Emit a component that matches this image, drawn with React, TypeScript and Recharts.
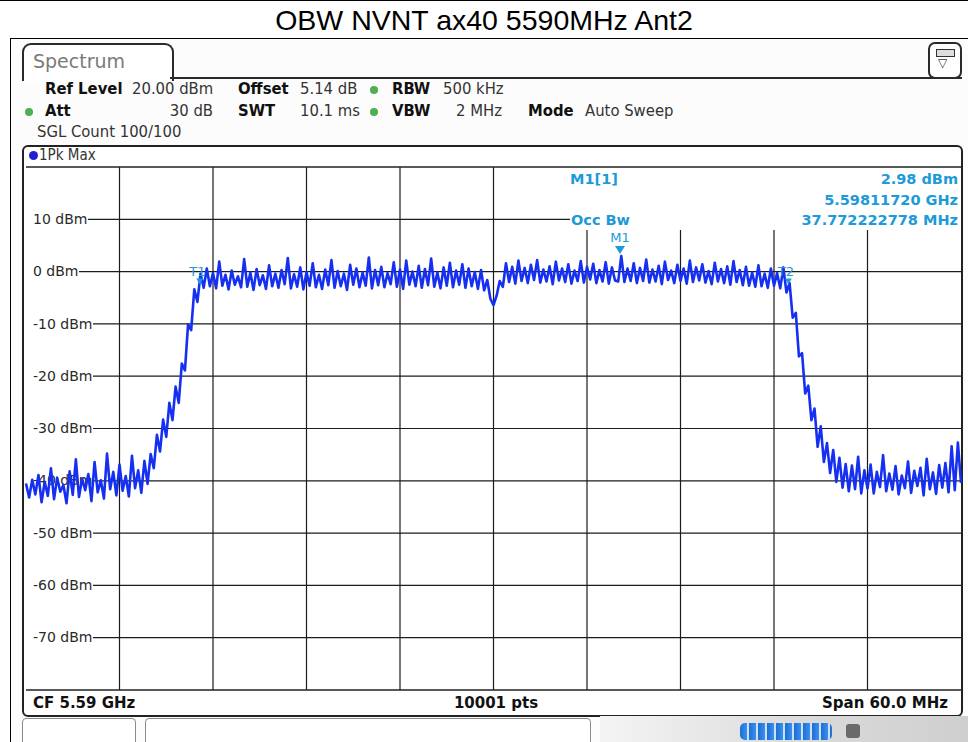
import { ComposedChart, Line, XAxis, YAxis, ReferenceLine, ReferenceDot } from 'recharts';

const freqStartMHz = 5560;
const freqStopMHz = 5620;
const freqStepMHz = 0.2;

// 1Pk Max trace, one value per 0.2 MHz (dBm)
const levelDbm = [
  -40.5, -43.2, -39.8, -42.6, -38.9, -44.1, -40.2, -42.9, -37.6, -43.5,
  -39.4, -42.1, -40.8, -44.3, -38.2, -42.7, -35.9, -43.1, -39.6, -41.8,
  -38.7, -43.9, -36.4, -42.2, -39.9, -43.4, -34.8, -41.6, -38.3, -42.8,
  -36.9, -41.9, -39.1, -43.0, -35.2, -41.4, -38.0, -42.3, -36.2, -40.6,
  -34.9, -37.6, -31.2, -34.4, -28.3, -31.6, -25.1, -28.4, -22.0, -25.1,
  -17.6, -18.9, -10.1, -11.2, -3.4, -5.8, -0.4, -3.1, 0.6, -2.8,
  -0.3, -3.2, 1.9, -2.7, -0.6, -3.4, 0.2, -2.5, -0.9, -3.0,
  2.4, -2.9, -0.2, -3.5, 0.5, -2.6, -0.7, -3.3, 1.2, -2.8,
  -0.4, -3.1, 0.3, -2.4, 2.6, -3.2, -0.5, -2.9, 0.8, -3.4,
  -0.1, -2.7, 1.6, -3.0, -0.6, -3.3, 0.4, -2.6, 2.2, -3.1,
  0.1, -2.8, -0.4, -3.5, 1.3, -2.5, 0.6, -3.0, -0.2, -2.7,
  2.7, -3.2, 0.3, -2.6, 0.9, -3.0, -0.3, -2.4, 1.8, -2.9,
  0.4, -3.3, 2.1, -2.5, 0.0, -2.8, 1.1, -3.1, 0.5, -2.6,
  2.5, -2.9, -0.2, -3.2, 0.8, -2.7, 1.7, -3.0, 0.2, -2.5,
  1.4, -3.1, 0.6, -2.8, -0.1, -3.3, 0.3, -3.6, -1.6, -5.2,
  -6.4, -4.6, -1.8, -2.9, 1.6, -2.0, 0.9, -2.3, 2.1, -1.8,
  0.7, -2.2, 1.3, -1.6, 2.2, -2.1, 0.4, -1.9, 1.0, -2.4,
  1.9, -1.7, 0.6, -2.0, 1.4, -2.3, 0.2, -1.8, 2.0, -2.1,
  0.9, -1.5, 1.5, -2.2, 0.3, -1.9, 1.8, -2.3, 0.8, -1.7,
  -1.9, 2.98, -2.0, 0.6, -1.8, 1.6, -2.2, 0.7, -1.8, 2.3,
  -2.1, 0.4, -1.9, 1.1, -2.4, 1.9, -1.6, 0.2, -2.2, 1.3,
  -1.8, 0.6, -2.3, 2.1, -2.0, 0.8, -1.7, 1.4, -2.1, 0.1,
  -2.4, 1.7, -1.9, 0.5, -2.2, 1.0, -2.5, 2.0, -2.0, 0.3,
  -2.6, 0.9, -2.7, -0.2, -2.9, 1.2, -2.8, -0.4, -3.1, 0.6,
  -2.7, -0.3, -3.2, 0.8, -4.0, -2.2, -8.8, -7.9, -16.2, -15.6,
  -23.3, -21.8, -28.4, -26.2, -33.5, -29.6, -36.4, -32.8, -38.5, -34.1,
  -40.2, -35.6, -41.3, -36.8, -42.0, -37.1, -41.6, -35.4, -42.4, -38.0,
  -41.5, -36.9, -42.4, -38.3, -41.2, -35.1, -42.0, -38.6, -41.7, -37.2,
  -42.6, -39.0, -41.4, -36.3, -42.3, -38.1, -41.0, -37.5, -42.8, -35.8,
  -41.6, -38.4, -42.5, -37.0, -41.3, -36.6, -42.2, -33.4, -41.8, -32.7,
  -40.4,
];

const gridLevels = [10, 0, -10, -20, -30, -40, -50, -60, -70];
const levelLabels = ['10 dBm', '0 dBm', '-10 dBm', '-20 dBm', '-30 dBm', '-40 dBm', '-50 dBm', '-60 dBm', '-70 dBm'];
const gridFreqs = [5566, 5572, 5578, 5584, 5590, 5596, 5602, 5608, 5614];

const markerFreqMHz = 5598.1172;
const markerLevel = 2.98;
const obwFreqs = [5571.114, 5608.886];
const obwLabels = ['T1', 'T2'];
const readoutLines = ['2.98 dBm', '5.59811720 GHz', '37.772222778 MHz'];

const traceData = levelDbm.map((v, i) => ({
  freq: +(freqStartMHz + i * freqStepMHz).toFixed(2),
  level: v,
}));

// plot rectangle in page pixels
const PLOT = { left: 26, top: 167, width: 935, height: 523 };
const pxToMHz = (px: number) => freqStartMHz + ((px - PLOT.left) / PLOT.width) * (freqStopMHz - freqStartMHz);
const pxToDbm = (py: number) => 20 - ((py - PLOT.top) / PLOT.height) * 100;

const CYAN = '#1d9ad8';
const TRACE = '#1630f2';
const GRID = '#1c1c1c';
const COND = '"DejaVu Sans Condensed", "Liberation Sans Narrow", "DejaVu Sans", sans-serif';
const SANS = '"DejaVu Sans", Verdana, sans-serif';

const labelEnd = [88, 79, 93, 93, 93, 93, 93, 93, 93];

const Txt = ({ x, y, children, size = 16.5, bold = false, color = '#333', family = COND, right }: any) => (
  <div
    style={{
      position: 'absolute',
      left: right === undefined ? x : undefined,
      right: right === undefined ? undefined : 968 - right,
      top: y - size * 0.6,
      fontSize: size,
      lineHeight: `${size * 1.2}px`,
      fontWeight: bold ? 700 : 400,
      color,
      fontFamily: family,
      whiteSpace: 'nowrap',
    }}
  >
    {children}
  </div>
);

const Dot = ({ x, y }: any) => (
  <div style={{ position: 'absolute', left: x, top: y - 4, width: 8, height: 8, borderRadius: 4, background: '#4caf50' }} />
);

const MarkerShape = (props: any) => {
  const { cx, cy } = props;
  return (
    <g>
      <path d={`M${cx - 5},${cy - 10} L${cx + 5},${cy - 10} L${cx},${cy - 2} Z`} fill={CYAN} />
      <text x={cx} y={cy - 14} textAnchor="middle" fontSize={13} fontFamily={SANS} fill={CYAN}>M1</text>
    </g>
  );
};

const obwShape = (label: string) => (props: any) => {
  const { cx, cy } = props;
  return (
    <g>
      <text x={cx - 10} y={cy + 4} fontSize={13} fontFamily={SANS} fill={CYAN}>{label}</text>
      <path d={`M${cx - 3},${cy + 7} L${cx + 4},${cy + 7} L${cx + 0.5},${cy + 13} Z`} fill={CYAN} />
    </g>
  );
};

export default function App() {
  return (
    <div style={{ position: 'absolute', left: 0, top: 0, width: 968, height: 742, overflow: 'hidden', background: '#fff' }}>
      {/* title row */}
      <div style={{ position: 'absolute', left: 0, top: 0, width: 968, height: 1, background: '#000' }} />
      <div style={{ position: 'absolute', left: 0, top: 1, width: 968, textAlign: 'center', fontFamily: '"Liberation Sans", Arial, sans-serif', fontSize: 28.5, lineHeight: '38px', color: '#000' }}>
        OBW NVNT ax40 5590MHz Ant2
      </div>
      <div style={{ position: 'absolute', left: 10, top: 38, width: 958, height: 1, background: '#000' }} />
      <div style={{ position: 'absolute', left: 10, top: 38, width: 1, height: 704, background: '#000' }} />

      {/* instrument screen */}
      <div style={{ position: 'absolute', left: 11, top: 39, width: 957, height: 703, background: '#fcfcfc' }} />
      <div style={{ position: 'absolute', left: 22, top: 43, width: 148, height: 36, border: '2px solid #2a2a2a', borderBottom: 'none', borderRadius: '9px 9px 0 0', background: '#fff' }} />
      <Txt x={33} y={61} size={19} color="#7a7a7a" family={SANS}>Spectrum</Txt>
      <div style={{ position: 'absolute', left: 170, top: 77, width: 792, height: 2, background: '#2a2a2a' }} />
      <div style={{ position: 'absolute', left: 928, top: 42, width: 30, height: 33, border: '2px solid #2a2a2a', borderRadius: 7, background: '#fff' }}>
        <div style={{ position: 'absolute', left: 6, top: 5, width: 17, height: 6, border: '1.5px solid #333', background: '#ddd' }} />
        <div style={{ position: 'absolute', left: 8, top: 12, fontSize: 12, color: '#333', fontFamily: SANS }}>▽</div>
      </div>

      {/* settings */}
      <Txt x={45} y={89} bold color="#111">Ref Level</Txt>
      <Txt x={132} y={89}>20.00 dBm</Txt>
      <Txt x={238} y={89} bold color="#111">Offset</Txt>
      <Txt x={300} y={89}>5.14 dB</Txt>
      <Dot x={370} y={90} />
      <Txt x={392} y={89} bold color="#111">RBW</Txt>
      <Txt x={443} y={89}>500 kHz</Txt>
      <Dot x={25} y={112} />
      <Txt x={45} y={111} bold color="#111">Att</Txt>
      <Txt right={213} y={111}>30 dB</Txt>
      <Txt x={238} y={111} bold color="#111">SWT</Txt>
      <Txt x={300} y={111}>10.1 ms</Txt>
      <Dot x={370} y={112} />
      <Txt x={392} y={111} bold color="#111">VBW</Txt>
      <Txt x={456} y={111}>2 MHz</Txt>
      <Txt x={528} y={111} bold color="#111">Mode</Txt>
      <Txt x={585} y={111}>Auto Sweep</Txt>
      <Txt x={37} y={132}>SGL Count 100/100</Txt>

      {/* diagram frame */}
      <div style={{ position: 'absolute', left: 22, top: 145, width: 937, height: 568, border: '2px solid #222', borderRadius: 6, background: '#fff' }} />
      <div style={{ position: 'absolute', left: 29, top: 151, width: 9, height: 9, borderRadius: 5, background: '#2020d0' }} />
      <Txt x={39} y={155} size={15}>1Pk Max</Txt>

      {levelLabels.map((t, i) => (
        <Txt key={t} x={33} y={PLOT.top + ((20 - gridLevels[i]) / 100) * PLOT.height} size={14} family={SANS} color="#2a2a2a">{t}</Txt>
      ))}

      {/* marker readout */}
      <Txt x={570} y={180} size={14.5} bold color={CYAN} family={SANS}>M1[1]</Txt>
      <Txt x={571} y={221} size={14.5} bold color={CYAN} family={SANS}>Occ Bw</Txt>
      {readoutLines.map((t, i) => (
        <Txt key={t} right={958} y={180 + i * 20.5} size={14.5} bold color={CYAN} family={SANS}>{t}</Txt>
      ))}

      <div style={{ position: 'absolute', left: 0, top: 0 }}>
        <ComposedChart
          width={968}
          height={742}
          data={traceData}
          margin={{ top: PLOT.top, left: PLOT.left, right: 968 - PLOT.left - PLOT.width, bottom: 742 - PLOT.top - PLOT.height }}
        >
          <XAxis dataKey="freq" type="number" domain={[freqStartMHz, freqStopMHz]} hide />
          <YAxis type="number" domain={[-80, 20]} hide />
          {gridLevels.map((lv, i) => (
            <ReferenceLine
              key={`h${lv}`}
              segment={[
                { x: pxToMHz(labelEnd[i]), y: lv },
                { x: lv === 10 ? pxToMHz(570) : freqStopMHz, y: lv },
              ]}
              stroke={GRID}
              strokeWidth={1.2}
            />
          ))}
          {gridFreqs.map((f) => (
            <ReferenceLine
              key={`v${f}`}
              segment={[
                { x: f, y: f > 5592 ? pxToDbm(230) : 20 },
                { x: f, y: -80 },
              ]}
              stroke={GRID}
              strokeWidth={1.2}
            />
          ))}
          <ReferenceLine y={20} stroke="#222" strokeWidth={1.5} />
          <ReferenceLine y={-80} stroke="#222" strokeWidth={1.5} />
          <Line
            type="linear"
            dataKey="level"
            stroke={TRACE}
            strokeWidth={2.6}
            strokeLinejoin="round"
            dot={false}
            isAnimationActive={false}
          />
          <ReferenceDot x={markerFreqMHz} y={markerLevel} r={0} shape={MarkerShape} />
          {obwFreqs.map((f, i) => (
            <ReferenceDot key={obwLabels[i]} x={f} y={0} r={0} shape={obwShape(obwLabels[i])} />
          ))}
        </ComposedChart>
      </div>

      {/* status row */}
      <Txt x={33} y={703} size={15} bold color="#111" family={SANS}>CF 5.59 GHz</Txt>
      <div style={{ position: 'absolute', left: 0, width: 968, top: 694, textAlign: 'center', paddingLeft: 12 }}>
        <span style={{ fontFamily: SANS, fontWeight: 700, fontSize: 15, color: '#111' }}>10001 pts</span>
      </div>
      <Txt right={948} y={703} size={15} bold color="#111" family={SANS}>Span 60.0 MHz</Txt>

      {/* bottom bar */}
      <div style={{ position: 'absolute', left: 600, top: 716, width: 368, height: 26, background: 'linear-gradient(90deg, #f4f4f4, #d9d9d9 60%, #cfcfcf)' }} />
      <div style={{ position: 'absolute', left: 22, top: 718, width: 112, height: 30, border: '1px solid #8a8a8a', borderRadius: 4, background: '#fff' }} />
      <div style={{ position: 'absolute', left: 145, top: 718, width: 444, height: 30, border: '1px solid #8a8a8a', borderRadius: 4, background: '#fff' }} />
      <div style={{ position: 'absolute', left: 740, top: 723, width: 92, height: 17, borderRadius: 5, background: 'repeating-linear-gradient(90deg, #1b6fd6 0px, #3a8ff0 7px, #cfe0f5 7px, #cfe0f5 9px)' }} />
      <div style={{ position: 'absolute', left: 846, top: 724, width: 14, height: 14, borderRadius: 3, background: '#6a6a6a' }} />
    </div>
  );
}
